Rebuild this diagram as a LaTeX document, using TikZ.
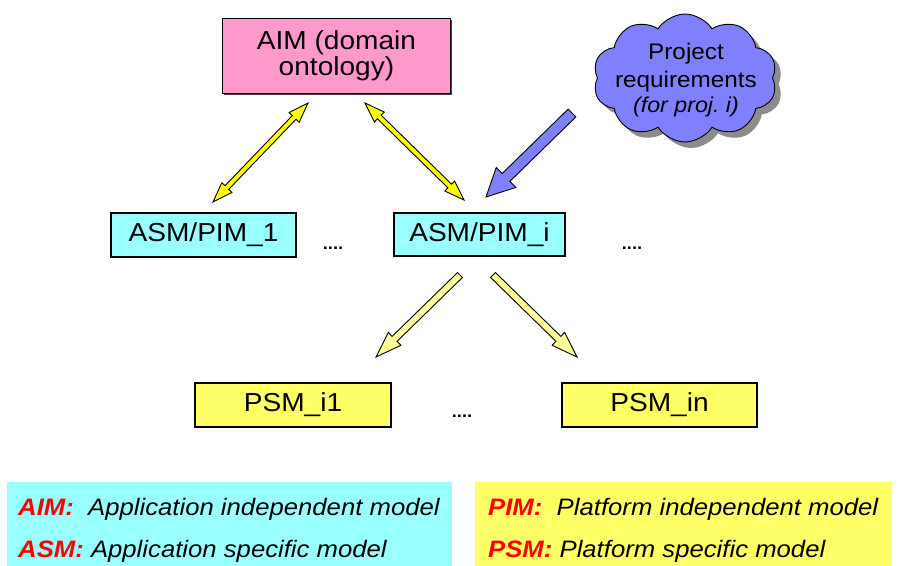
\documentclass[tikz,border=0pt]{standalone}
\usepackage{fontspec}
\setmainfont{Liberation Sans}[FakeStretch=1.08]
\usetikzlibrary{calc,shapes.symbols,shadows}
\frenchspacing

\definecolor{aimpink}{HTML}{FF99CC}
\definecolor{asmcyan}{HTML}{99FFFF}
\definecolor{psmyellow}{HTML}{FFFF66}
\definecolor{linkyellow}{HTML}{FFFF00}
\definecolor{paleyellow}{HTML}{FFFF99}
\definecolor{reqblue}{HTML}{8080FF}
\definecolor{keyred}{HTML}{FF0000}

% block arrow: #1 style, #2 tail, #3 tip, #4 half shaft, #5 half head, #6 head length
\newcommand\fatarrow[6]{%
  \coordinate (fa base) at ($(#3)!#6!(#2)$);
  \draw[#1] ($(#2)!#4!90:(#3)$) -- ($(fa base)!#4!90:(#3)$) -- ($(fa base)!#5!90:(#3)$) -- (#3)
    -- ($(fa base)!#5!-90:(#3)$) -- ($(fa base)!#4!-90:(#3)$) -- ($(#2)!#4!-90:(#3)$) -- cycle;}
% block arrow with a head at both ends
\newcommand\fatdarrow[6]{%
  \coordinate (fa base a) at ($(#2)!#6!(#3)$);
  \coordinate (fa base b) at ($(#3)!#6!(#2)$);
  \draw[#1] (#2) -- ($(fa base a)!#5!90:(#3)$) -- ($(fa base a)!#4!90:(#3)$)
    -- ($(fa base b)!#4!90:(#3)$) -- ($(fa base b)!#5!90:(#3)$) -- (#3)
    -- ($(fa base b)!#5!-90:(#3)$) -- ($(fa base b)!#4!-90:(#3)$)
    -- ($(fa base a)!#4!-90:(#3)$) -- ($(fa base a)!#5!-90:(#3)$) -- cycle;}

\tikzset{
  modelbox/.style={draw=black, line width=1.1pt, inner sep=0pt, align=center,
    font=\fontsize{26}{26}\selectfont,
    drop shadow={shadow xshift=1.3pt, shadow yshift=-1.3pt, fill=black!75, opacity=1}},
  dots/.style={inner sep=0pt, anchor=base, font=\fontsize{17}{17}\selectfont\bfseries},
  keytext/.style={inner sep=0pt, anchor=base west, font=\fontsize{23.8}{24}\selectfont\itshape},
  keybg/.style={inner sep=0pt, anchor=north west},
  arrowline/.style={draw=black, line width=0.9pt, line join=miter},
}
\newcommand\keyword[1]{\textcolor{keyred}{\bfseries #1}}

\begin{document}
\begin{tikzpicture}[x=1pt,y=-1pt]
\useasboundingbox (0,0) rectangle (905,565);

% legend backgrounds
\node[keybg, fill=asmcyan, minimum width=445, minimum height=84] (keyapp) at (7,482) {};
\node[keybg, fill=psmyellow, minimum width=417, minimum height=84] (keyplat) at (475,482) {};

% model boxes
\node[modelbox, fill=aimpink, minimum width=228, minimum height=75] (aim) at (336.5,56) {AIM (domain\\ontology)};
\node[modelbox, fill=asmcyan, minimum width=185, minimum height=44] (asm1) at (203.5,235) {ASM/PIM\_1};
\node[modelbox, fill=asmcyan, minimum width=171, minimum height=43] (asmi) at (479.5,234.5) {ASM/PIM\_i};
\node[modelbox, fill=psmyellow, minimum width=196, minimum height=44] (psm1) at (293,405) {PSM\_i1};
\node[modelbox, fill=psmyellow, minimum width=195, minimum height=44] (psmn) at (659.5,405) {PSM\_in};

% requirements cloud
\node[cloud, cloud puffs=10, cloud puff arc=115, aspect=1.44, draw=black, line width=0.9pt,
      fill=reqblue, minimum width=184, minimum height=128, inner sep=0pt,
      drop shadow={shadow xshift=6pt, shadow yshift=-6pt, fill=black!45, opacity=1}] (req) at (685,78) {};
\node[align=center, inner sep=0pt, font=\fontsize{22.5}{28}\selectfont] (reqtext) at (686,80)
  {Project\\requirements\\[-3pt]{\fontsize{21.5}{22}\selectfont\itshape (for proj.\ i)}};

% ellipses
\node[dots] (more1) at (333,249) {....};
\node[dots] (more2) at (632,249) {....};
\node[dots] (more3) at (462,417) {....};

% arrow end points
\coordinate (aim-asm1-lo) at (213,202);
\coordinate (aim-asm1-hi) at (308,103);
\coordinate (aim-asmi-hi) at (365,103);
\coordinate (aim-asmi-lo) at (464,200);
\coordinate (req-tail) at (572,113);
\coordinate (req-tip) at (486,197);
\coordinate (asmi-psm1-tail) at (460,275);
\coordinate (asmi-psm1-tip) at (376,357);
\coordinate (asmi-psmn-tail) at (493,275);
\coordinate (asmi-psmn-tip) at (577,357);

% arrows
\fatdarrow{arrowline, fill=linkyellow}{aim-asm1-lo}{aim-asm1-hi}{2.6pt}{7pt}{20pt}
\fatdarrow{arrowline, fill=linkyellow}{aim-asmi-hi}{aim-asmi-lo}{2.6pt}{7pt}{20pt}
\fatarrow{arrowline, fill=reqblue}{req-tail}{req-tip}{5.5pt}{14pt}{28pt}
\fatarrow{arrowline, fill=paleyellow}{asmi-psm1-tail}{asmi-psm1-tip}{3.5pt}{9pt}{26pt}
\fatarrow{arrowline, fill=paleyellow}{asmi-psmn-tail}{asmi-psmn-tip}{3.5pt}{9pt}{26pt}

% legend texts
\node[keytext] (keyaim) at (18,515) {\keyword{AIM:}~~Application independent model};
\node[keytext] (keyasm) at (18,557) {\keyword{ASM:} Application specific model};
\node[keytext] (keypim) at (488,515) {\keyword{PIM:}~~Platform independent model};
\node[keytext] (keypsm) at (488,557) {\keyword{PSM:} Platform specific model};
\end{tikzpicture}
\end{document}
